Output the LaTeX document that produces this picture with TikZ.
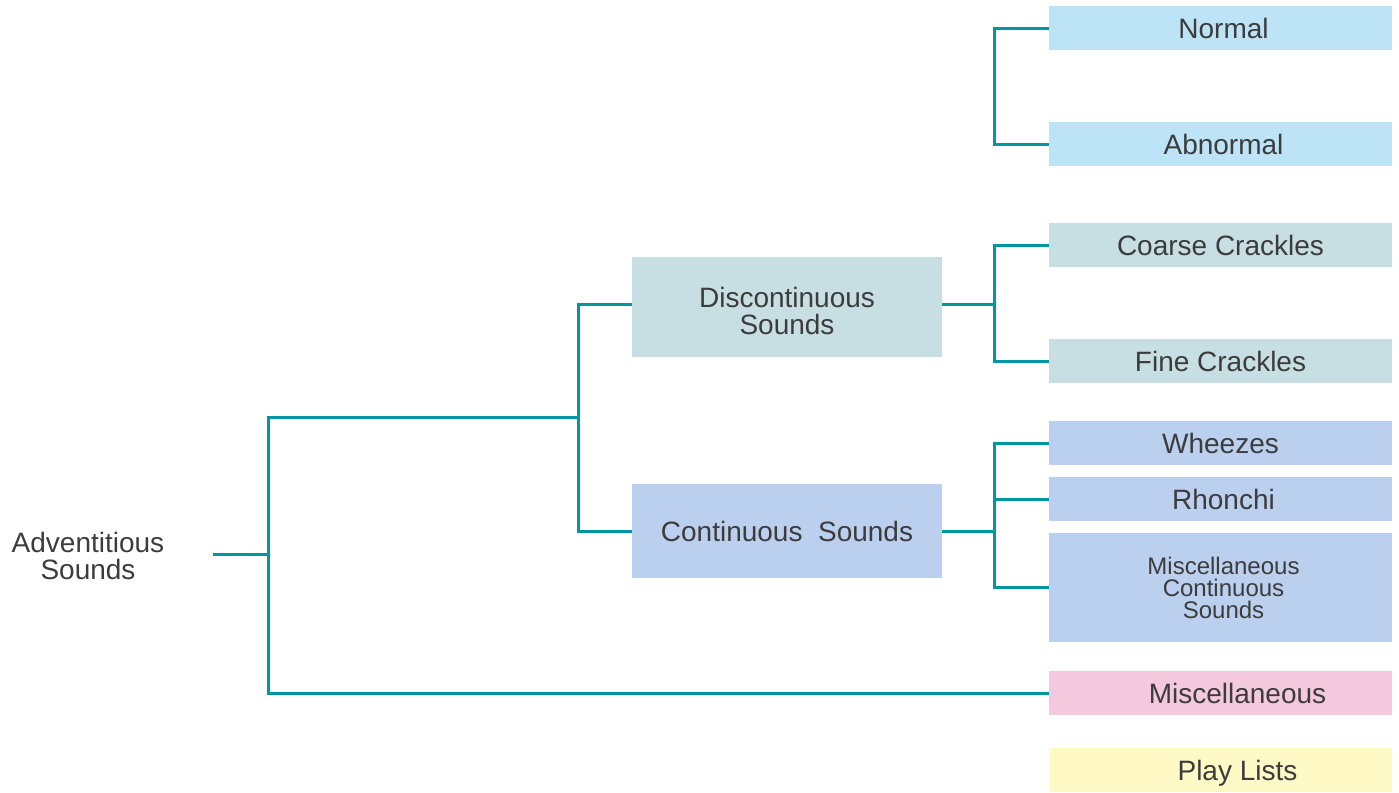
\documentclass[tikz,border=0pt]{standalone}
\usepackage{fontspec}
\setmainfont{Liberation Sans}
\begin{document}
\begin{tikzpicture}[x=0.5pt,y=-0.5pt,
  conn/.style={draw=teal, line width=1.5pt, line join=miter},
  box/.style={inner sep=0pt, outer sep=0pt, text=txt, font=\fontsize{14pt}{16pt}\selectfont, align=center},
  leaf/.style={box, minimum width=171.5pt, minimum height=22pt, text height=10pt, text depth=0pt},
  mid/.style={box, minimum width=155pt}
]
\definecolor{teal}{HTML}{0097A0}
\definecolor{txt}{HTML}{3C3C3C}
\definecolor{cblue}{HTML}{BDE3F7}
\definecolor{cgreen}{HTML}{C7DFE3}
\definecolor{cpurp}{HTML}{BBD0EE}
\definecolor{cpink}{HTML}{F5C9DD}
\definecolor{cyell}{HTML}{FEF9C5}
\useasboundingbox (0,0) rectangle (1399,793);

\node[leaf, fill=cblue] (normal) at (1220.5,28) {\hspace*{3pt}Normal};
\node[leaf, fill=cblue] (abnormal) at (1220.5,144) {\hspace*{3pt}Abnormal};
\node[leaf, fill=cgreen] (coarse) at (1220.5,245) {Coarse Crackles};
\node[leaf, fill=cgreen] (fine) at (1220.5,361) {Fine Crackles};
\node[leaf, fill=cpurp] (wheezes) at (1220.5,443) {Wheezes};
\node[leaf, fill=cpurp] (rhonchi) at (1220.5,499) {\hspace*{3pt}Rhonchi};
\node[box, fill=cpurp, minimum width=171.5pt, minimum height=54.5pt, font=\fontsize{12pt}{11pt}\selectfont] (misccont) at (1220.5,587.5) {\hspace*{3pt}Miscellaneous\\\hspace*{3pt}Continuous\\\hspace*{3pt}Sounds};
\node[leaf, fill=cpink] (misc) at (1220.5,693) {\hspace*{17pt}Miscellaneous};
\node[leaf, fill=cyell] (play) at (1220.5,770) {\hspace*{17pt}Play Lists};

\node[mid, fill=cgreen, minimum height=50pt, font=\fontsize{14pt}{13.5pt}\selectfont] (disc) at (787,307) {\rule{0pt}{14.5pt}Discontinuous\\Sounds};
\node[mid, fill=cpurp, minimum height=47pt, text height=10pt, text depth=0pt] (cont) at (787,531) {Continuous\ \ Sounds};

\node[box, font=\fontsize{14pt}{13.5pt}\selectfont] (adv) at (88,556) {Adventitious\\Sounds};

\coordinate (r0) at (213,554);
\coordinate (r1) at (268,554);
\coordinate (jm) at (578,417);

\draw[conn] (normal.west) -- ++(-55,0) |- (abnormal.west);
\draw[conn] (disc.east) ++(0,-3) coordinate (de) -- ++(52,0) coordinate (jd);
\draw[conn] (coarse.west) -| (jd) |- (fine.west);
\draw[conn] (cont.east) -- ++(52,0) coordinate (jc);
\draw[conn] (wheezes.west) -| (jc) |- (misccont.west);
\draw[conn] (jc |- rhonchi.west) -- (rhonchi.west);
\draw[conn] (disc.west) ++(0,-3) coordinate (dw) -| (jm) |- (cont.west);
\draw[conn] (jm) -| (r1) |- (misc.west);
\draw[conn] (r0) -- (r1);
\end{tikzpicture}
\end{document}
